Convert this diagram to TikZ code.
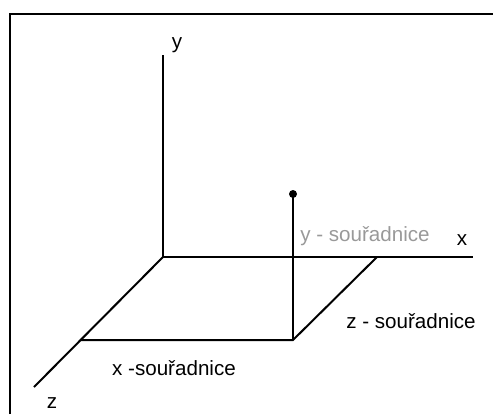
\documentclass[tikz,border=0pt]{standalone}
\usepackage{fontspec}
\setmainfont{Liberation Sans}
\begin{document}
\begin{tikzpicture}[x=0.5pt, y=-0.5pt, line width=1pt,
  lbl/.style={font=\fontsize{10.3}{12}\selectfont, inner sep=0pt},
  pale/.style={lbl, text=black!40}]
\useasboundingbox (0,0) rectangle (493,414);
\draw[line width=1.3pt] (10,414) -- (10,14) -- (493,14);
\coordinate (o) at (163,257);
\coordinate (ytop) at (163,55);
\coordinate (xend) at (473,257);
\coordinate (zend) at (34,387);
\coordinate (px) at (377,257);
\coordinate (pz) at (80,340);
\coordinate (pxz) at (293,340);
\coordinate (p) at (293,194);
\draw (ytop) -- (o) -- (xend);
\draw (o) -- (zend);
\draw (pz) -- (pxz) -- (px);
\draw (pxz) -- (p);
\fill (p) circle (4);
\node[lbl] (ylab) at (177,45) {y};
\node[lbl] (xlab) at (462,240) {x};
\node[lbl] (zlab) at (52,403) {z};
\node[pale] (ysour) at (365,236) {y - souřadnice};
\node[lbl] (zsour) at (411,321) {z - souřadnice};
\node[lbl] (xsour) at (174,368) {x -souřadnice};
\end{tikzpicture}
\end{document}
